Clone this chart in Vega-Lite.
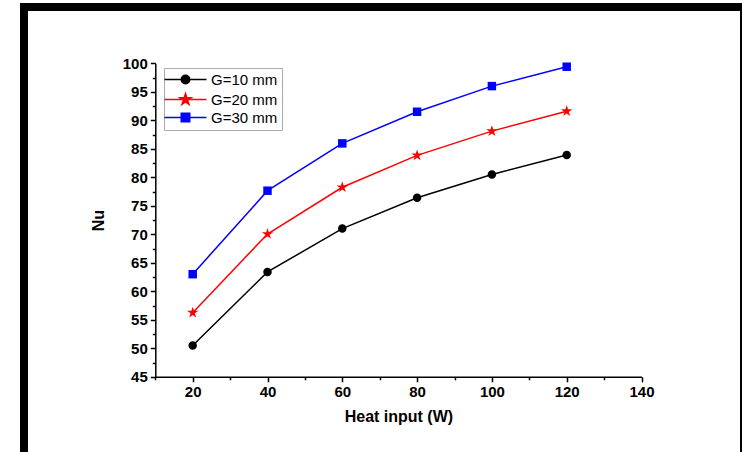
{
  "$schema": "https://vega.github.io/schema/vega-lite/v6.json",
  "autosize": "none",
  "padding": {"left": 24, "top": 7, "right": -2, "bottom": -10},
  "width": 720,
  "height": 455,
  "background": "white",
  "config": {
    "view": {"stroke": "black", "strokeWidth": 8},
    "font": "Liberation Sans"
  },
  "data": {
    "values": [
      {"heat": 20, "G": "G=10 mm", "Nu": 50.5},
      {"heat": 40, "G": "G=10 mm", "Nu": 63.4},
      {"heat": 60, "G": "G=10 mm", "Nu": 71.0},
      {"heat": 80, "G": "G=10 mm", "Nu": 76.4},
      {"heat": 100, "G": "G=10 mm", "Nu": 80.5},
      {"heat": 120, "G": "G=10 mm", "Nu": 83.9},
      {"heat": 20, "G": "G=20 mm", "Nu": 56.25},
      {"heat": 40, "G": "G=20 mm", "Nu": 70.05},
      {"heat": 60, "G": "G=20 mm", "Nu": 78.25},
      {"heat": 80, "G": "G=20 mm", "Nu": 83.85},
      {"heat": 100, "G": "G=20 mm", "Nu": 88.1},
      {"heat": 120, "G": "G=20 mm", "Nu": 91.6},
      {"heat": 20, "G": "G=30 mm", "Nu": 63.0},
      {"heat": 40, "G": "G=30 mm", "Nu": 77.65},
      {"heat": 60, "G": "G=30 mm", "Nu": 85.95},
      {"heat": 80, "G": "G=30 mm", "Nu": 91.5},
      {"heat": 100, "G": "G=30 mm", "Nu": 96.0},
      {"heat": 120, "G": "G=30 mm", "Nu": 99.4}
    ]
  },
  "encoding": {
    "x": {
      "field": "heat",
      "type": "quantitative",
      "scale": {"domain": [10, 140], "range": [131.3, 617.5], "nice": false, "zero": false},
      "axis": {
        "title": "Heat input (W)",
        "values": [10, 20, 30, 40, 50, 60, 70, 80, 90, 100, 110, 120, 130, 140],
        "labelExpr": "datum.value % 20 == 0 ? datum.label : ''",
        "tickSize": {"condition": {"test": "datum.value % 20 != 0", "value": 3}, "value": 5},
        "offset": -85.2,
        "grid": false,
        "domainColor": "black",
        "domainWidth": 1.5,
        "tickColor": "black",
        "tickWidth": 1.5,
        "labelFont": "Liberation Sans",
        "labelFontWeight": "bold",
        "labelFontSize": 15,
        "labelColor": "black",
        "labelPadding": 3,
        "labelFlush": false,
        "labelOverlap": false,
        "titleFont": "Liberation Sans",
        "titleFontSize": 16,
        "titleFontWeight": "bold",
        "titleColor": "black",
        "titlePadding": 9
      }
    },
    "y": {
      "field": "Nu",
      "type": "quantitative",
      "scale": {"domain": [45, 100], "range": [369.8, 56.3], "nice": false, "zero": false},
      "axis": {
        "title": "Nu",
        "values": [45, 47.5, 50, 52.5, 55, 57.5, 60, 62.5, 65, 67.5, 70, 72.5, 75, 77.5, 80, 82.5, 85, 87.5, 90, 92.5, 95, 97.5, 100],
        "labelExpr": "datum.value % 5 == 0 ? datum.label : ''",
        "tickSize": {"condition": {"test": "datum.value % 5 != 0", "value": 3}, "value": 5},
        "offset": -131.3,
        "grid": false,
        "domainColor": "black",
        "domainWidth": 1.5,
        "tickColor": "black",
        "tickWidth": 1.5,
        "labelFont": "Liberation Sans",
        "labelFontWeight": "bold",
        "labelFontSize": 15,
        "labelColor": "black",
        "labelPadding": 3,
        "labelFlush": false,
        "labelOverlap": false,
        "titleFont": "Liberation Sans",
        "titleFontSize": 16,
        "titleFontWeight": "bold",
        "titleColor": "black",
        "titlePadding": 16
      }
    },
    "color": {
      "field": "G",
      "type": "nominal",
      "scale": {"domain": ["G=10 mm", "G=20 mm", "G=30 mm"], "range": ["#000000", "#ff0000", "#0000ff"]},
      "legend": {
        "title": null,
        "orient": "none",
        "legendX": 140,
        "legendY": 61,
        "fillColor": "white",
        "strokeColor": "#aaaaaa",
        "padding": 4,
        "symbolSize": 72,
        "symbolOffset": 10,
        "labelOffset": 18,
        "labelFont": "Liberation Sans",
        "labelFontSize": 15,
        "labelColor": "black",
        "rowPadding": 2,
        "symbolStrokeWidth": 1.5,
        "symbolType": {"expr": "datum.value == 'G=10 mm' ? 'M-4.95,0H4.95M-1,0A1,1 0 1,1 1,0A1,1 0 1,1 -1,0Z' : datum.value == 'G=20 mm' ? 'M-4.95,0H4.95M0,-1.4L0.315,-0.433L1.331,-0.433L0.508,0.165L0.823,1.133L0,0.535L-0.823,1.133L-0.508,0.165L-1.331,-0.433L-0.315,-0.433Z' : 'M-4.95,0H4.95M-1,-1H1V1H-1Z'"},
        "encoding": {
          "symbols": {
            "shape": {"value": {"expr": "datum.value == 'G=10 mm' ? 'M-4.95,0H4.95M-1,0A1,1 0 1,1 1,0A1,1 0 1,1 -1,0Z' : datum.value == 'G=20 mm' ? 'M-4.95,0H4.95M0,-1.4L0.315,-0.433L1.331,-0.433L0.508,0.165L0.823,1.133L0,0.535L-0.823,1.133L-0.508,0.165L-1.331,-0.433L-0.315,-0.433Z' : 'M-4.95,0H4.95M-1,-1H1V1H-1Z'"}},
            "fill": {"value": {"expr": "scale('color', datum.value)"}},
            "stroke": {"value": {"expr": "scale('color', datum.value)"}},
            "strokeWidth": {"value": 1.5}
          }
        }
      }
    }
  },
  "layer": [
    {
      "mark": {"type": "line", "strokeWidth": 1.5}
    },
    {
      "transform": [{"filter": "datum.G == 'G=10 mm'"}],
      "mark": {"type": "point", "filled": true, "size": 72, "opacity": 1, "shape": "M-1,0A1,1 0 1,1 1,0A1,1 0 1,1 -1,0Z"}
    },
    {
      "transform": [{"filter": "datum.G == 'G=20 mm'"}],
      "mark": {"type": "point", "filled": true, "size": 72, "opacity": 1, "shape": "M0,-1.4L0.315,-0.433L1.331,-0.433L0.508,0.165L0.823,1.133L0,0.535L-0.823,1.133L-0.508,0.165L-1.331,-0.433L-0.315,-0.433Z"}
    },
    {
      "transform": [{"filter": "datum.G == 'G=30 mm'"}],
      "mark": {"type": "point", "filled": true, "size": 72, "opacity": 1, "shape": "M-1,-1H1V1H-1Z"}
    }
  ]
}
